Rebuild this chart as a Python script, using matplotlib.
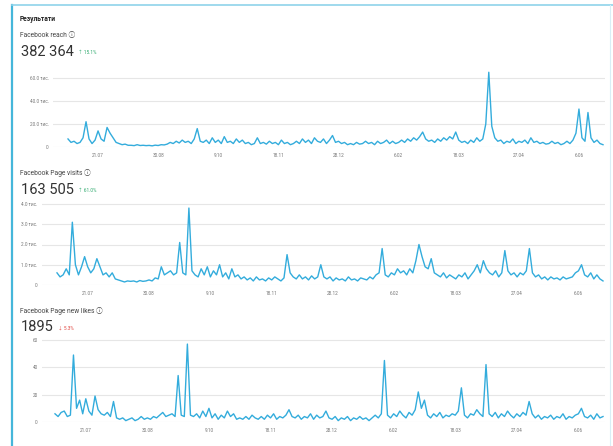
import matplotlib
matplotlib.use("Agg")
import matplotlib.pyplot as plt
import numpy as np

plt.rcParams['font.family'] = ['Roboto', 'Noto Sans CJK SC', 'DejaVu Sans']

# ---------------- data (2-day steps starting 1 July) ----------------
day_step = 2
tick_days = [20, 60, 100, 140, 180, 220, 260, 300, 340]
tick_labels = ["21.07", "30.08", "9.10", "18.11", "28.12", "6.02", "18.03", "27.04", "6.06"]

reach_k = [7, 4, 5, 3, 4, 8, 22, 7, 3, 6,
           14, 7, 5, 17, 12, 8, 4, 3, 2, 2.5,
           1.5, 1.5, 1.2, 2, 1.3, 1.5, 1.2, 1.4, 1, 1.6,
           1.3, 2, 1.8, 2.5, 4, 3, 5, 3.5, 6, 4,
           5, 3, 7, 16, 5, 4, 6, 3, 8, 4,
           6, 3, 9, 4, 5, 3, 7, 4, 6, 3,
           4, 2, 3, 8, 3, 4, 2.5, 5, 3, 4,
           2, 6, 3, 4, 2, 3, 5, 3, 7, 4,
           6, 3, 8, 5, 4, 7, 3, 6, 10, 4,
           5, 3, 4, 2, 3, 2, 4, 2.5, 3, 5,
           3, 4, 2, 5, 3, 4, 6, 3, 5, 3,
           4, 6, 4, 7, 5, 8, 6, 9, 13, 7,
           5, 6, 4, 7, 5, 8, 6, 9, 7, 13,
           6, 4, 5, 3, 6, 4, 8, 5, 7, 20,
           65, 18, 8, 5, 6, 3, 5, 4, 7, 3,
           5, 4, 6, 3, 8, 4, 5, 3, 4, 2.5,
           3, 5, 3, 4, 2, 3, 5, 3, 6, 12,
           33, 8, 5, 30, 8, 4, 6, 3, 2]

visits_k = [0.6, 0.4, 0.5, 0.8, 0.5, 3.1, 1.0, 0.5, 0.9, 1.4,
            0.9, 0.6, 0.8, 1.3, 0.9, 0.5, 0.6, 0.4, 0.6, 0.3,
            0.25, 0.2, 0.15, 0.2, 0.18, 0.2, 0.15, 0.22, 0.18, 0.2,
            0.25, 0.2, 0.35, 0.3, 0.9, 0.5, 0.6, 0.7, 0.5, 0.6,
            2.1, 0.6, 0.5, 3.8, 0.7, 0.5, 0.4, 0.8, 0.5, 0.9,
            0.4, 0.7, 0.5, 1.0, 0.4, 0.6, 0.3, 0.8, 0.4, 0.5,
            0.3, 0.4, 0.25, 0.35, 0.2, 0.4, 0.25, 0.3, 0.2, 0.35,
            0.25, 0.4, 0.3, 0.2, 0.35, 1.5, 0.6, 0.4, 0.3, 0.5,
            0.3, 0.4, 0.25, 0.45, 0.3, 0.4, 1.0, 0.4, 0.3, 0.4,
            0.2, 0.35, 0.25, 0.3, 0.2, 0.4, 0.25, 0.3, 0.2, 0.35,
            0.3, 0.25, 0.4, 0.3, 0.5, 0.6, 1.8, 0.5, 0.4, 0.6,
            0.5, 0.8, 0.6, 0.7, 0.5, 0.8, 0.6, 1.2, 2.0, 1.4,
            0.9, 0.8, 1.3, 0.6, 0.5, 0.4, 0.6, 0.35, 0.5, 0.4,
            0.3, 0.5, 0.4, 0.6, 0.3, 0.5, 0.7, 1.0, 0.6, 1.2,
            0.8, 0.6, 0.5, 0.7, 0.4, 0.6, 1.7, 0.7, 0.5, 0.6,
            0.4, 0.6, 0.5, 0.7, 1.8, 0.6, 0.4, 0.5, 0.3, 0.4,
            0.25, 0.4, 0.3, 0.35, 0.25, 0.4, 0.3, 0.35, 0.4, 0.6,
            0.7, 1.0, 0.5, 0.4, 0.6, 0.3, 0.5, 0.3, 0.2]

likes = [6, 4, 7, 8, 4, 5, 49, 10, 16, 6,
         17, 8, 5, 19, 9, 6, 5, 7, 4, 15,
         3, 2, 3, 1, 2, 3, 1, 2, 4, 2,
         3, 2, 4, 3, 5, 7, 4, 5, 6, 4,
         34, 5, 4, 57, 5, 4, 6, 3, 8, 4,
         10, 3, 6, 2, 5, 3, 8, 4, 6, 2,
         3, 2, 4, 2, 5, 3, 2, 4, 2, 5,
         3, 6, 2, 4, 3, 5, 9, 4, 3, 5,
         2, 4, 3, 6, 2, 5, 3, 4, 8, 3,
         2, 4, 1, 3, 2, 4, 1, 3, 2, 4,
         2, 3, 1, 3, 5, 3, 6, 45, 5, 3,
         6, 4, 8, 5, 3, 7, 5, 9, 22, 10,
         16, 5, 3, 6, 4, 7, 3, 5, 4, 6,
         5, 8, 25, 5, 3, 6, 5, 9, 6, 4,
         42, 6, 4, 7, 3, 6, 4, 8, 5, 3,
         6, 4, 7, 5, 15, 6, 3, 5, 2, 4,
         3, 5, 2, 4, 3, 6, 2, 4, 3, 5,
         6, 10, 4, 3, 5, 2, 6, 3, 4]

page_title = "Результати"
panel_titles = ["Facebook reach", "Facebook Page visits", "Facebook Page new likes"]
totals = ["382 364", "163 505", "1895"]
changes = ["↑ 15.1%", "↑ 61.0%", "↓ 5.3%"]
change_up = [True, True, False]
y_ticks = [[0, 20, 40, 60], [0, 1, 2, 3, 4], [0, 20, 40, 60]]
y_ticklabels = [["0", "20.0 тис.", "40.0 тис.", "60.0 тис."],
                ["0", "1.0 тис.", "2.0 тис.", "3.0 тис.", "4.0 тис."],
                ["0", "20", "40", "60"]]

# ---------------- figure ----------------
W, H = 613, 446
fig = plt.figure(figsize=(W / 100, H / 100), dpi=100)
fig.patch.set_facecolor("white")

def px_axes(x0, y_top, x1, y_bot):
    return fig.add_axes([x0 / W, 1 - y_bot / H, (x1 - x0) / W, (y_bot - y_top) / H])

# frame (screenshot border)
bg = fig.add_axes([0, 0, 1, 1])
bg.set_xlim(0, W); bg.set_ylim(H, 0); bg.axis("off")
bg.plot([11.5, 11.5], [5, H], color="#45b6da", lw=1.6)
bg.plot([11.5, W], [5, 5], color="#8fd3ea", lw=1.2)
bg.plot([W - 3, W - 3], [5, H], color="#d9eef6", lw=0.8)

line_color = "#33acdc"
grid_color = "#e6e6e6"
label_color = "#777777"

specs = [
    dict(gx=53, dx=68, rx=605, y0=147, ppu=1.15, ymax=66, data=reach_k,
         head_y=35, total_y=52),
    dict(gx=42, dx=57, rx=605, y0=285, ppu=20.25, ymax=4.05, data=visits_k,
         head_y=173, total_y=190),
    dict(gx=42, dx=55, rx=605, y0=422, ppu=1.367, ymax=61, data=likes,
         head_y=311, total_y=327),
]

bg.text(20, 19, page_title, fontsize=4.8, fontweight="bold", color="#222222",
        va="center", ha="left")

for i, s in enumerate(specs):
    vals = np.array(s["data"], dtype=float)
    days = np.arange(len(vals)) * day_step
    last_day = days[-1]
    ppd = (s["rx"] - 2 - s["dx"]) / last_day
    xmin = -(s["dx"] - s["gx"]) / ppd
    xmax = xmin + (s["rx"] - s["gx"]) / ppd
    y_top = s["y0"] - s["ymax"] * s["ppu"]
    ax = px_axes(s["gx"], y_top, s["rx"], s["y0"])
    ax.set_xlim(xmin, xmax)
    ax.set_ylim(0, s["ymax"])
    for sp in ax.spines.values():
        sp.set_visible(False)
    ax.set_facecolor("none")
    for t in y_ticks[i]:
        ax.axhline(t, color=grid_color, lw=0.8, zorder=0)
    ax.plot(days, vals, color=line_color, lw=1.0, zorder=3, clip_on=False)
    ax.set_yticks(y_ticks[i])
    ax.set_yticklabels(y_ticklabels[i])
    ax.set_xticks(tick_days)
    ax.set_xticklabels(tick_labels)
    ax.tick_params(axis="both", length=0, labelsize=3.4, labelcolor=label_color)
    ax.tick_params(axis="y", pad=3)
    ax.tick_params(axis="x", pad=4)

    # headings
    bg.text(20, s["head_y"], panel_titles[i] + " ⓘ", fontsize=4.8, color="#444444",
            va="center", ha="left")
    tt = bg.text(21, s["total_y"], totals[i], fontsize=10.5, color="#333333",
                 va="center", ha="left")
    fig.canvas.draw()
    bb = tt.get_window_extent()
    xend = bb.x1
    bg.text(xend + 4, s["total_y"] + 1, changes[i], fontsize=3.4,
            color="#2aa86a" if change_up[i] else "#e0443e", va="center", ha="left")

fig.savefig("out.png", dpi=100, facecolor="white")
